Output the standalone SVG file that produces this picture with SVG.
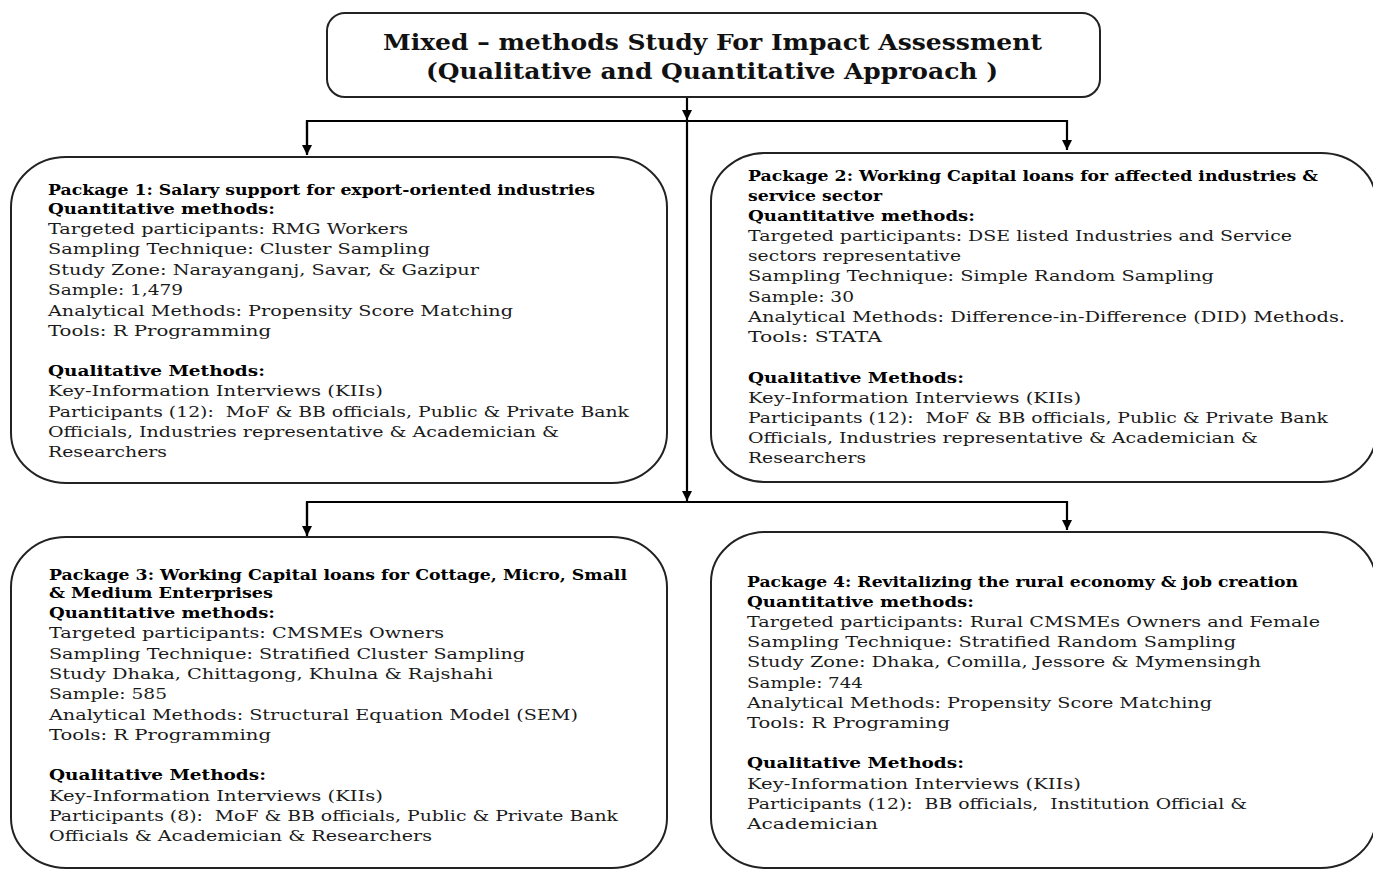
<svg xmlns="http://www.w3.org/2000/svg" width="1373" height="869" viewBox="0 0 1373 869">
<style>
.box{fill:#fff;stroke:#222;stroke-width:2}
.t{font-family:"DejaVu Serif","Liberation Serif",serif;font-size:14px;fill:#1a1a1a}
.b{font-weight:bold;fill:#000}
.title{font-family:"DejaVu Serif","Liberation Serif",serif;font-size:23px;font-weight:bold;fill:#111}
.con{fill:none;stroke:#000;stroke-width:2.2}
</style>
<defs>
<marker id="ah" viewBox="0 0 10 10" refX="10" refY="5" markerWidth="10" markerHeight="10" markerUnits="userSpaceOnUse" orient="auto">
<path d="M0,0 L10,5 L0,10 z" fill="#000"/>
</marker>
</defs>
<rect width="1373" height="869" fill="#fff"/>

<g id="connectors">
<line class="con" x1="687" y1="97" x2="687" y2="120" marker-end="url(#ah)"/>
<line class="con" x1="687" y1="121" x2="687" y2="501" marker-end="url(#ah)"/>
<polyline class="con" points="307,154 307,121 1067,121 1067,150" marker-end="url(#ah)"/>
<line class="con" x1="307" y1="121" x2="307" y2="155" marker-end="url(#ah)"/>
<polyline class="con" points="307,535 307,502 1067,502 1067,530" marker-end="url(#ah)"/>
<line class="con" x1="307" y1="502" x2="307" y2="536" marker-end="url(#ah)"/>
</g>

<g id="title">
<rect class="box" x="327" y="13" width="773" height="84" rx="18" ry="18"/>
<text class="title" x="383" y="50" textLength="659" lengthAdjust="spacingAndGlyphs">Mixed – methods Study For Impact Assessment</text>
<text class="title" x="426" y="79" textLength="572" lengthAdjust="spacingAndGlyphs">(Qualitative and Quantitative Approach )</text>
</g>

<g id="package1">
<rect class="box" x="11" y="157" width="656" height="326" rx="55" ry="50"/>
<text class="t b" x="48" y="195" textLength="547" lengthAdjust="spacingAndGlyphs">Package 1: Salary support for export-oriented industries</text>
<text class="t b" x="48" y="214" textLength="227" lengthAdjust="spacingAndGlyphs">Quantitative methods:</text>
<text class="t" x="48" y="234" textLength="360" lengthAdjust="spacingAndGlyphs">Targeted participants: RMG Workers</text>
<text class="t" x="48" y="254" textLength="382" lengthAdjust="spacingAndGlyphs">Sampling Technique: Cluster Sampling</text>
<text class="t" x="48" y="275" textLength="431" lengthAdjust="spacingAndGlyphs">Study Zone: Narayanganj, Savar, &amp; Gazipur</text>
<text class="t" x="48" y="295" textLength="135" lengthAdjust="spacingAndGlyphs">Sample: 1,479</text>
<text class="t" x="48" y="316" textLength="465" lengthAdjust="spacingAndGlyphs">Analytical Methods: Propensity Score Matching</text>
<text class="t" x="48" y="336" textLength="223" lengthAdjust="spacingAndGlyphs">Tools: R Programming</text>
<text class="t b" x="48" y="376" textLength="217" lengthAdjust="spacingAndGlyphs">Qualitative Methods:</text>
<text class="t" x="48" y="396" textLength="335" lengthAdjust="spacingAndGlyphs">Key-Information Interviews (KIIs)</text>
<text class="t" x="48" y="417" textLength="581" lengthAdjust="spacingAndGlyphs" xml:space="preserve">Participants (12):  MoF &amp; BB officials, Public &amp; Private Bank</text>
<text class="t" x="48" y="437" textLength="511" lengthAdjust="spacingAndGlyphs">Officials, Industries representative &amp; Academician &amp;</text>
<text class="t" x="48" y="457" textLength="119" lengthAdjust="spacingAndGlyphs">Researchers</text>
</g>

<g id="package2">
<rect class="box" x="711" y="153" width="665" height="329" rx="55" ry="48"/>
<text class="t b" x="748" y="181" textLength="570" lengthAdjust="spacingAndGlyphs">Package 2: Working Capital loans for affected industries &amp;</text>
<text class="t b" x="748" y="201" textLength="134" lengthAdjust="spacingAndGlyphs">service sector</text>
<text class="t b" x="748" y="221" textLength="227" lengthAdjust="spacingAndGlyphs">Quantitative methods:</text>
<text class="t" x="748" y="241" textLength="544" lengthAdjust="spacingAndGlyphs">Targeted participants: DSE listed Industries and Service</text>
<text class="t" x="748" y="261" textLength="213" lengthAdjust="spacingAndGlyphs">sectors representative</text>
<text class="t" x="748" y="281" textLength="466" lengthAdjust="spacingAndGlyphs">Sampling Technique: Simple Random Sampling</text>
<text class="t" x="748" y="302" textLength="106" lengthAdjust="spacingAndGlyphs">Sample: 30</text>
<text class="t" x="748" y="322" textLength="597" lengthAdjust="spacingAndGlyphs">Analytical Methods: Difference-in-Difference (DID) Methods.</text>
<text class="t" x="748" y="342" textLength="134" lengthAdjust="spacingAndGlyphs">Tools: STATA</text>
<text class="t b" x="748" y="383" textLength="216" lengthAdjust="spacingAndGlyphs">Qualitative Methods:</text>
<text class="t" x="748" y="403" textLength="333" lengthAdjust="spacingAndGlyphs">Key-Information Interviews (KIIs)</text>
<text class="t" x="748" y="423" textLength="580" lengthAdjust="spacingAndGlyphs" xml:space="preserve">Participants (12):  MoF &amp; BB officials, Public &amp; Private Bank</text>
<text class="t" x="748" y="443" textLength="510" lengthAdjust="spacingAndGlyphs">Officials, Industries representative &amp; Academician &amp;</text>
<text class="t" x="748" y="463" textLength="118" lengthAdjust="spacingAndGlyphs">Researchers</text>
</g>

<g id="package3">
<rect class="box" x="11" y="537" width="656" height="331" rx="55" ry="50"/>
<text class="t b" x="49" y="580" textLength="578" lengthAdjust="spacingAndGlyphs">Package 3: Working Capital loans for Cottage, Micro, Small</text>
<text class="t b" x="49" y="598" textLength="224" lengthAdjust="spacingAndGlyphs">&amp; Medium Enterprises</text>
<text class="t b" x="49" y="618" textLength="226" lengthAdjust="spacingAndGlyphs">Quantitative methods:</text>
<text class="t" x="49" y="638" textLength="395" lengthAdjust="spacingAndGlyphs">Targeted participants: CMSMEs Owners</text>
<text class="t" x="49" y="659" textLength="476" lengthAdjust="spacingAndGlyphs">Sampling Technique: Stratified Cluster Sampling</text>
<text class="t" x="49" y="679" textLength="444" lengthAdjust="spacingAndGlyphs">Study Dhaka, Chittagong, Khulna &amp; Rajshahi</text>
<text class="t" x="49" y="699" textLength="118" lengthAdjust="spacingAndGlyphs">Sample: 585</text>
<text class="t" x="49" y="720" textLength="529" lengthAdjust="spacingAndGlyphs">Analytical Methods: Structural Equation Model (SEM)</text>
<text class="t" x="49" y="740" textLength="222" lengthAdjust="spacingAndGlyphs">Tools: R Programming</text>
<text class="t b" x="49" y="780" textLength="217" lengthAdjust="spacingAndGlyphs">Qualitative Methods:</text>
<text class="t" x="49" y="801" textLength="334" lengthAdjust="spacingAndGlyphs">Key-Information Interviews (KIIs)</text>
<text class="t" x="49" y="821" textLength="569" lengthAdjust="spacingAndGlyphs" xml:space="preserve">Participants (8):  MoF &amp; BB officials, Public &amp; Private Bank</text>
<text class="t" x="49" y="841" textLength="383" lengthAdjust="spacingAndGlyphs">Officials &amp; Academician &amp; Researchers</text>
</g>

<g id="package4">
<rect class="box" x="711" y="532" width="665" height="336" rx="55" ry="50"/>
<text class="t b" x="747" y="587" textLength="551" lengthAdjust="spacingAndGlyphs">Package 4: Revitalizing the rural economy &amp; job creation</text>
<text class="t b" x="747" y="607" textLength="227" lengthAdjust="spacingAndGlyphs">Quantitative methods:</text>
<text class="t" x="747" y="627" textLength="573" lengthAdjust="spacingAndGlyphs">Targeted participants: Rural CMSMEs Owners and Female</text>
<text class="t" x="747" y="647" textLength="489" lengthAdjust="spacingAndGlyphs">Sampling Technique: Stratified Random Sampling</text>
<text class="t" x="747" y="667" textLength="514" lengthAdjust="spacingAndGlyphs">Study Zone: Dhaka, Comilla, Jessore &amp; Mymensingh</text>
<text class="t" x="747" y="688" textLength="116" lengthAdjust="spacingAndGlyphs">Sample: 744</text>
<text class="t" x="747" y="708" textLength="465" lengthAdjust="spacingAndGlyphs">Analytical Methods: Propensity Score Matching</text>
<text class="t" x="747" y="728" textLength="203" lengthAdjust="spacingAndGlyphs">Tools: R Programing</text>
<text class="t b" x="747" y="768" textLength="217" lengthAdjust="spacingAndGlyphs">Qualitative Methods:</text>
<text class="t" x="747" y="789" textLength="334" lengthAdjust="spacingAndGlyphs">Key-Information Interviews (KIIs)</text>
<text class="t" x="747" y="809" textLength="500" lengthAdjust="spacingAndGlyphs" xml:space="preserve">Participants (12):  BB officials,  Institution Official &amp;</text>
<text class="t" x="747" y="829" textLength="131" lengthAdjust="spacingAndGlyphs">Academician</text>
</g>
</svg>
